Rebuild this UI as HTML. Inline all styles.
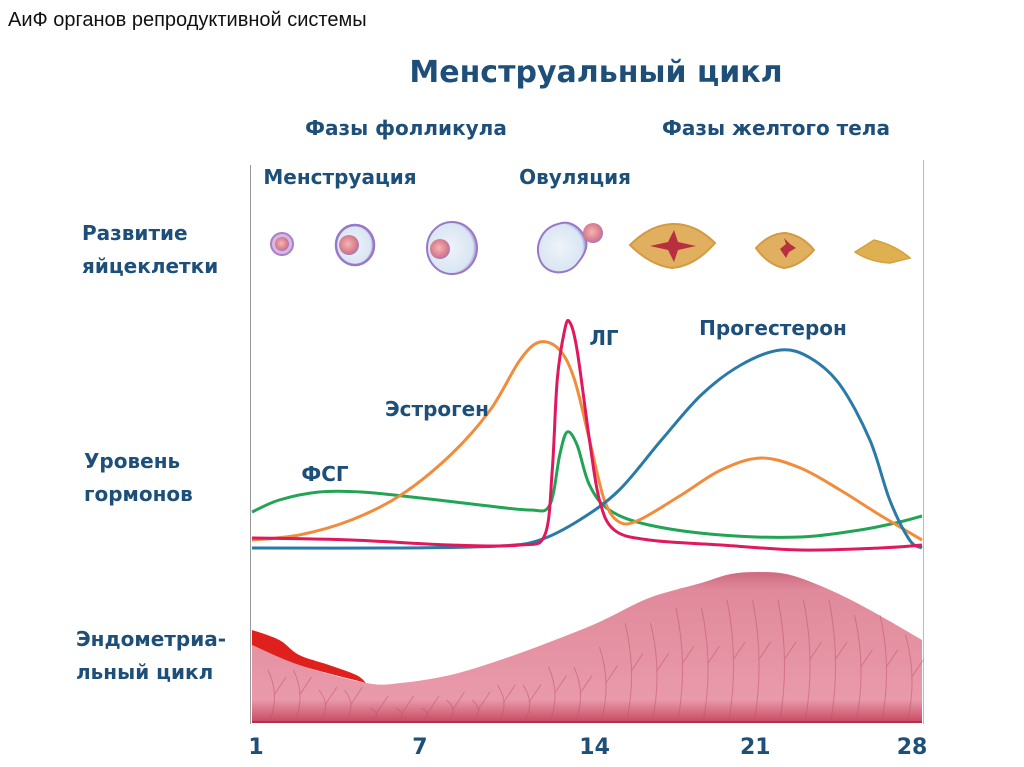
<!DOCTYPE html>
<html><head><meta charset="utf-8">
<style>
body{margin:0;background:#fff;width:1024px;height:767px;overflow:hidden;font-family:"Liberation Sans","DejaVu Sans",sans-serif}
svg{display:block}
.lbl{fill:#1d4f78;font-family:"DejaVu Sans","Liberation Sans",sans-serif;font-weight:bold}
</style></head><body>
<svg id="chart" width="1024" height="767">
<defs>
<linearGradient id="endo" x1="0" y1="0" x2="0" y2="1">
<stop offset="0" stop-color="#cf6a80"/><stop offset="0.12" stop-color="#e08a9c"/><stop offset="0.85" stop-color="#e99aaa"/><stop offset="1" stop-color="#c84a62"/></linearGradient>
<radialGradient id="fol" cx="0.45" cy="0.5" r="0.55"><stop offset="0" stop-color="#eef3f8"/><stop offset="0.85" stop-color="#d9e6f3"/><stop offset="1" stop-color="#9b86cc"/></radialGradient>
<radialGradient id="egg" cx="0.45" cy="0.45" r="0.55"><stop offset="0" stop-color="#f4b5b5"/><stop offset="0.8" stop-color="#d77a8a"/><stop offset="1" stop-color="#a37ac4"/></radialGradient>
</defs>
<text x="8" y="26" font-size="20" fill="#111">АиФ органов репродуктивной системы</text>
<text x="596" y="82" font-size="30" class="lbl" text-anchor="middle">Менструальный цикл</text>
<text x="406" y="135" font-size="20" class="lbl" text-anchor="middle">Фазы фолликула</text>
<text x="776" y="135" font-size="20" class="lbl" text-anchor="middle">Фазы желтого тела</text>
<text x="340" y="184" font-size="20" class="lbl" text-anchor="middle">Менструация</text>
<text x="575" y="184" font-size="20" class="lbl" text-anchor="middle">Овуляция</text>
<text x="82" y="240" font-size="20" class="lbl">Развитие</text>
<text x="82" y="273" font-size="20" class="lbl">яйцеклетки</text>
<text x="84" y="468" font-size="20" class="lbl">Уровень</text>
<text x="84" y="501" font-size="20" class="lbl">гормонов</text>
<text x="76" y="646" font-size="20" class="lbl">Эндометриа-</text>
<text x="76" y="679" font-size="20" class="lbl">льный цикл</text>
<line x1="250.5" y1="165" x2="250.5" y2="724" stroke="#999"/>
<line x1="923.5" y1="160" x2="923.5" y2="724" stroke="#bbb"/>
<g><circle cx="282" cy="244" r="11" fill="#d8b8e0" stroke="#a880c8" stroke-width="2"/><circle cx="282" cy="244" r="7" fill="url(#egg)"/></g>
<g><ellipse cx="355" cy="245" rx="19" ry="20" fill="url(#fol)" stroke="#9a78c8" stroke-width="2.5"/><circle cx="349" cy="245" r="10" fill="url(#egg)"/></g>
<g><ellipse cx="452" cy="248" rx="25" ry="26" fill="url(#fol)" stroke="#9a78c8" stroke-width="2"/><circle cx="440" cy="249" r="10" fill="url(#egg)"/></g>
<g><path d="M586,240 C580,225 568,220 558,224 C542,228 534,245 540,260 C546,275 566,276 576,265 C584,256 588,248 586,240Z" fill="url(#fol)" stroke="#9a78c8" stroke-width="2"/><circle cx="593" cy="233" r="10" fill="url(#egg)"/></g>
<g><path d="M630,245 Q650,225 672,224 Q695,223 715,243 Q695,266 672,268 Q650,265 630,245Z" fill="#e0b060" stroke="#d49a40" stroke-width="2"/><path d="M650,246 L668,242 L674,230 L678,242 L696,246 L678,250 L674,262 L668,250Z" fill="#b83040"/></g>
<g><path d="M756,248 Q770,233 786,233 Q803,236 814,250 Q800,266 784,268 Q768,265 756,248Z" fill="#e0b060" stroke="#d49a40" stroke-width="2"/><path d="M780,249 L786,244 L784,238 L790,244 L796,248 L789,252 L786,258 L782,252Z" fill="#b83040"/></g>
<g><path d="M855,252 L874,240 Q895,245 910,258 L890,263 Q870,262 855,252Z" fill="#deb050" stroke="#d4a040" stroke-width="1.5"/></g>
<g id="plot"></g>
<text x="604" y="345" font-size="20" class="lbl" text-anchor="middle">ЛГ</text>
<text x="773" y="335" font-size="20" class="lbl" text-anchor="middle">Прогестерон</text>
<text x="437" y="416" font-size="20" class="lbl" text-anchor="middle">Эстроген</text>
<text x="325" y="481" font-size="20" class="lbl" text-anchor="middle">ФСГ</text>
<g id="ticks"></g>
</svg>
<script>
const tickDays=[1,7,14,21,28];
const tickLabels=["1","7","14","21","28"];
const progDays=[1,7,11,12.6,14.2,15.8,17.5,19.1,20.7,22.3,23.5,24.7,25.9,26.7,27.5,28];
const progVals=[0,0,2,8,28,58,108,153,183,198,190,163,108,48,8,0];
const estDays=[1,2.9,5,7,9,10.6,11.8,12.6,13.4,14,14.6,15.2,15.8,16.6,18.3,19.9,21.5,23.1,24.7,26.3,28];
const estVals=[8,13,28,53,93,138,188,206,198,168,108,48,26,28,53,78,90,80,58,33,8];
const lhDays=[1,5,9,11.8,12.8,13.1,13.3,13.6,13.8,14.1,14.6,15,15.6,17,19.9,23.1,26.3,28];
const lhVals=[10,8,3,3,13,78,168,218,226,198,108,48,18,8,3,-2,0,3];
const fshDays=[1,2.1,3.7,5.4,7.8,10.2,12.2,13,13.4,13.7,14.1,14.6,15.4,17,19.9,23.1,25.5,27.1,28];
const fshVals=[36,48,56,56,50,43,38,43,93,116,103,63,38,23,13,11,18,26,32];
const endoDays=[1,2.9,5.6,7,9,11,13,15,17,19.1,20.3,21.5,22.7,24.3,25.9,28];
const endoVals=[77,57,39,39,47,62,80,100,124,139,148,150,147,132,112,82];
const bloodDays=[1,2.1,2.9,4.1,5.2,5.6];
const bloodVals=[92,82,67,57,47,39];

const X=d=>252+(d-1)*(670/27);
const HY=v=>548-v;
const EY=v=>722-v;
const ns="http://www.w3.org/2000/svg";
function smooth(pts){let s=`M${pts[0][0]},${pts[0][1]}`;for(let i=0;i<pts.length-1;i++){const p0=pts[Math.max(0,i-1)],p1=pts[i],p2=pts[i+1],p3=pts[Math.min(pts.length-1,i+2)];s+=` C${p1[0]+(p2[0]-p0[0])/6},${p1[1]+(p2[1]-p0[1])/6} ${p2[0]-(p3[0]-p1[0])/6},${p2[1]-(p3[1]-p1[1])/6} ${p2[0]},${p2[1]}`;}return s;}
const plot=document.getElementById('plot');
const ePts=endoDays.map((d,i)=>[X(d),EY(endoVals[i])]);
const endo=document.createElementNS(ns,'path');
endo.setAttribute('d',smooth(ePts)+` L${X(28)},722 L${X(1)},722Z`);
endo.setAttribute('fill','url(#endo)');


plot.appendChild(endo);
const veins=document.createElementNS(ns,'g');


let vd='';for(let i=0;i<26;i++){const x=270+i*25.5;const y0=720;const top=Math.max(EY(endoVals[Math.min(endoVals.length-1,Math.floor(i*15/26))])+25,600);const m=(y0+top)/2;vd+=`M${x},${y0} Q${x+10},${m} ${x-2},${top} M${x+4},${m} L${x+16},${m-18} `;}
const vp=document.createElementNS(ns,'path');vp.setAttribute('d',vd);vp.setAttribute('stroke','#c0506a');vp.setAttribute('stroke-width','1');vp.setAttribute('fill','none');vp.setAttribute('opacity','0.5');veins.appendChild(vp);plot.appendChild(veins);
const bTop=bloodDays.map((d,i)=>[X(d),EY(bloodVals[i])]);
const bBot=ePts.slice(0,3).reverse();
const blood=document.createElementNS(ns,'path');
blood.setAttribute('d',smooth(bTop)+' '+smooth(bBot).replace('M','L'));
blood.setAttribute('fill','#e0201c');


plot.appendChild(blood);
const base=document.createElementNS(ns,'line');
base.setAttribute('x1',X(1));base.setAttribute('x2',X(28));base.setAttribute('y1',722);base.setAttribute('y2',722);base.setAttribute('stroke','#b03050');base.setAttribute('stroke-width','2');


plot.appendChild(base);
function line(days,vals,color,name){const p=document.createElementNS(ns,'path');p.setAttribute('d',smooth(days.map((d,i)=>[X(d),HY(vals[i])])));p.setAttribute('stroke',color);p.setAttribute('stroke-width','3');p.setAttribute('fill','none');


plot.appendChild(p);}
line(fshDays,fshVals,'#22a455','fsh-line');
line(estDays,estVals,'#f08c3c','estrogen-line');
line(progDays,progVals,'#2a7aa8','progesterone-line');
line(lhDays,lhVals,'#e0185c','lh-line');
const tg=document.getElementById('ticks');
const offs=[4,19,20,7,-10];
tickDays.forEach((d,i)=>{const t=document.createElementNS(ns,'text');t.setAttribute('x',X(d)+offs[i]);t.setAttribute('y',754);t.setAttribute('text-anchor','middle');t.setAttribute('font-size','22');t.setAttribute('class','lbl');t.textContent=tickLabels[i];


tg.appendChild(t);});
</script>
</body></html>
